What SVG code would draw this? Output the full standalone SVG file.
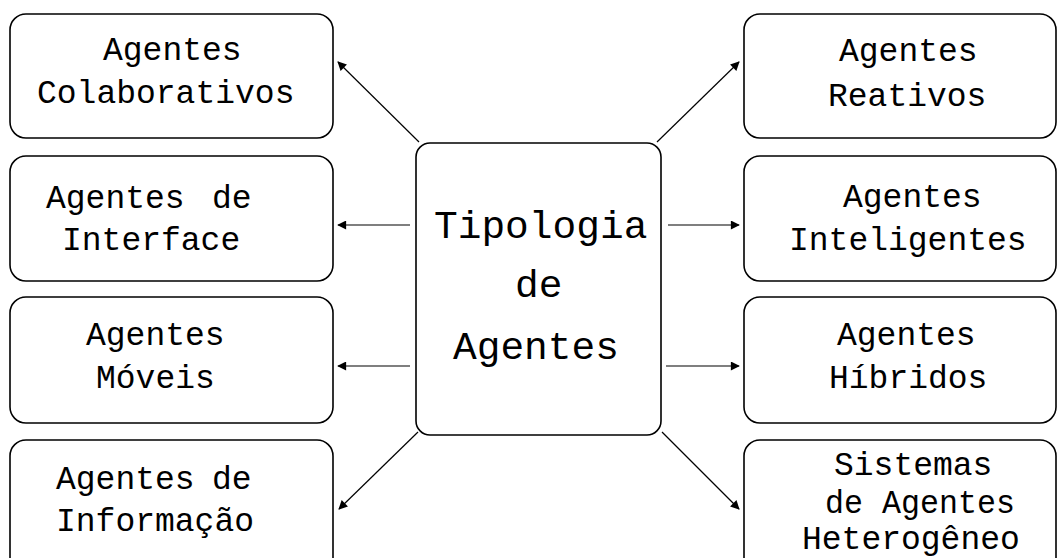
<svg xmlns="http://www.w3.org/2000/svg" width="1057" height="558" viewBox="0 0 1057 558">
<style>
.box{fill:#fff;stroke:#000;stroke-width:1.6}
.t{font-family:"Liberation Mono","Courier New",monospace;font-size:33px;fill:#000}
.c{font-family:"Liberation Mono","Courier New",monospace;font-size:39.5px;fill:#000}
.ln{stroke:#000;stroke-width:1.2;fill:none;marker-end:url(#ah)}
</style>
<defs>
<marker id="ah" viewBox="0 0 10 10" refX="9" refY="5" markerWidth="10" markerHeight="9" markerUnits="userSpaceOnUse" orient="auto">
<path d="M0,0 L10,5 L0,10 z" fill="#000"/>
</marker>
</defs>
<rect width="1057" height="558" fill="#fff"/>
<g id="connectors">
<line class="ln" x1="419" y1="142" x2="338" y2="62"/>
<line class="ln" x1="410" y1="225" x2="338" y2="225"/>
<line class="ln" x1="410" y1="366" x2="338" y2="366"/>
<line class="ln" x1="418" y1="432" x2="339" y2="509"/>
<line class="ln" x1="657" y1="142" x2="739" y2="62"/>
<line class="ln" x1="668" y1="225" x2="739" y2="225"/>
<line class="ln" x1="666" y1="366" x2="739" y2="366"/>
<line class="ln" x1="662" y1="432" x2="739" y2="509"/>
</g>
<g id="center">
<rect class="box" x="416" y="143" width="245" height="292" rx="14"/>
<text class="c" x="434" y="238">Tipologia</text>
<text class="c" x="515" y="297">de</text>
<text class="c" x="453" y="359">Agentes</text>
</g>
<g id="colaborativos">
<rect class="box" x="10" y="14" width="323" height="124" rx="16"/>
<text class="t" x="103" y="60">Agentes</text>
<text class="t" x="37" y="103">Colaborativos</text>
</g>
<g id="interface">
<rect class="box" x="10" y="156" width="323" height="125" rx="16"/>
<text class="t" x="46" y="208">Agentes<tspan x="212">de</tspan></text>
<text class="t" x="62" y="250">Interface</text>
</g>
<g id="moveis">
<rect class="box" x="10" y="297" width="323" height="126" rx="16"/>
<text class="t" x="86" y="345">Agentes</text>
<text class="t" x="96" y="388">Móveis</text>
</g>
<g id="informacao">
<rect class="box" x="10" y="440" width="323" height="140" rx="16"/>
<text class="t" x="56" y="489">Agentes<tspan x="212">de</tspan></text>
<text class="t" x="56" y="531">Informação</text>
</g>
<g id="reativos">
<rect class="box" x="744" y="14" width="312" height="124" rx="16"/>
<text class="t" x="839" y="61">Agentes</text>
<text class="t" x="828" y="106">Reativos</text>
</g>
<g id="inteligentes">
<rect class="box" x="744" y="156" width="312" height="125" rx="16"/>
<text class="t" x="843" y="207">Agentes</text>
<text class="t" x="789" y="250">Inteligentes</text>
</g>
<g id="hibridos">
<rect class="box" x="744" y="297" width="312" height="126" rx="16"/>
<text class="t" x="837" y="345">Agentes</text>
<text class="t" x="829" y="388">Híbridos</text>
</g>
<g id="heterogeneos">
<rect class="box" x="744" y="440" width="312" height="140" rx="16"/>
<text class="t" x="834" y="475">Sistemas</text>
<text class="t" x="825" y="513" textLength="190" lengthAdjust="spacingAndGlyphs">de Agentes</text>
<text class="t" x="802" y="549">Heterogêneo</text>
</g>
</svg>
